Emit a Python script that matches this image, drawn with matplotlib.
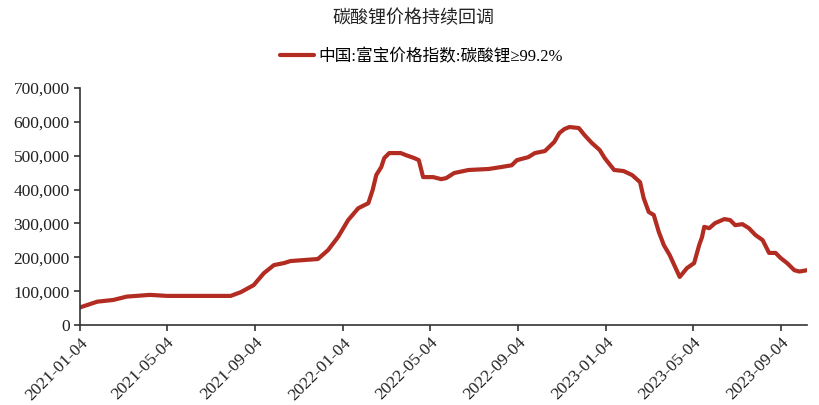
import matplotlib.pyplot as plt
import matplotlib.dates as mdates
import matplotlib.ticker as mticker
import pandas as pd

plt.rcParams['font.family'] = ['Liberation Serif', 'Noto Sans CJK SC', 'DejaVu Sans']

# 中国:富宝价格指数:碳酸锂≥99.2% (元/吨)
dates = ['2021-01-04', '2021-01-28', '2021-02-19', '2021-03-10', '2021-04-11',
         '2021-05-05', '2021-08-01', '2021-08-15', '2021-09-02', '2021-09-16',
         '2021-09-30', '2021-10-14', '2021-10-23', '2021-11-30', '2021-12-14',
         '2021-12-28', '2022-01-11', '2022-01-25', '2022-02-08', '2022-02-14',
         '2022-02-19', '2022-02-26', '2022-03-02', '2022-03-09', '2022-03-25',
         '2022-04-01', '2022-04-13', '2022-04-19', '2022-04-25', '2022-05-09',
         '2022-05-20', '2022-05-27', '2022-06-07', '2022-06-27', '2022-07-25',
         '2022-08-12', '2022-08-26', '2022-09-02', '2022-09-18', '2022-09-27',
         '2022-10-11', '2022-10-24', '2022-10-31', '2022-11-07', '2022-11-14',
         '2022-11-27', '2022-12-05', '2022-12-15', '2022-12-26', '2023-01-02',
         '2023-01-15', '2023-01-28', '2023-02-09', '2023-02-20', '2023-02-25',
         '2023-03-04', '2023-03-11', '2023-03-18', '2023-03-25', '2023-04-02',
         '2023-04-16', '2023-04-26', '2023-05-06', '2023-05-13', '2023-05-17',
         '2023-05-20', '2023-05-27', '2023-06-04', '2023-06-17', '2023-06-25',
         '2023-07-02', '2023-07-12', '2023-07-21', '2023-07-30', '2023-08-09',
         '2023-08-18', '2023-08-27', '2023-09-03', '2023-09-12', '2023-09-22',
         '2023-09-29', '2023-10-10']
prices = [52000, 69000, 74000, 84000, 89000,
          86000, 86000, 97000, 118000, 153000,
          177000, 183000, 189000, 195000, 221000,
          260000, 310000, 345000, 360000, 399000,
          443000, 467000, 493000, 508000, 508000,
          502000, 493000, 487000, 437000, 437000,
          431000, 434000, 449000, 458000, 461000,
          467000, 472000, 487000, 496000, 508000,
          514000, 541000, 567000, 579000, 585000,
          582000, 561000, 538000, 517000, 493000,
          458000, 455000, 443000, 422000, 375000,
          334000, 325000, 275000, 236000, 207000,
          142000, 168000, 183000, 236000, 260000,
          290000, 286000, 301000, 313000, 310000,
          295000, 298000, 286000, 266000, 251000,
          213000, 213000, 198000, 183000, 162000,
          158000, 162000]
tick_dates = ['2021-01-04', '2021-05-04', '2021-09-04', '2022-01-04', '2022-05-04',
              '2022-09-04', '2023-01-04', '2023-05-04', '2023-09-04']

x = pd.to_datetime(dates)
ticks = pd.to_datetime(tick_dates)

fig = plt.figure(figsize=(8.19, 4.05), dpi=100)
ax = fig.add_axes([0.0977, 0.1975, 0.888, 0.585])

ax.plot(x, prices, color='#B22C22', lw=3, solid_capstyle='round',
        label='中国:富宝价格指数:碳酸锂≥99.2%')

ax.set_xlim(x[0], x[-1])
ax.set_ylim(0, 700000)
ax.yaxis.set_major_locator(mticker.MultipleLocator(100000))
ax.yaxis.set_major_formatter(mticker.FuncFormatter(lambda v, p: f'{v:,.0f}'))
ax.set_xticks(ticks)
ax.xaxis.set_major_formatter(mdates.DateFormatter('%Y-%m-%d'))
plt.setp(ax.get_xticklabels(), rotation=45, ha='right', rotation_mode='anchor')

for s in ['top', 'right']:
    ax.spines[s].set_visible(False)
for s in ['left', 'bottom']:
    ax.spines[s].set_color('#333333')
    ax.spines[s].set_linewidth(1.2)
ax.tick_params(axis='both', labelsize=12.5, colors='#333333', length=4, width=1.2,
               labelcolor='#222222')
ax.tick_params(axis='x', pad=3)

fig.text(0.505, 0.955, '碳酸锂价格持续回调', ha='center', va='center', fontsize=13,
         color='#222222')
fig.legend(loc='center', bbox_to_anchor=(0.515, 0.86), frameon=False, fontsize=12,
           handlelength=2.0, handletextpad=0.3)

fig.savefig('out.png', dpi=100)
